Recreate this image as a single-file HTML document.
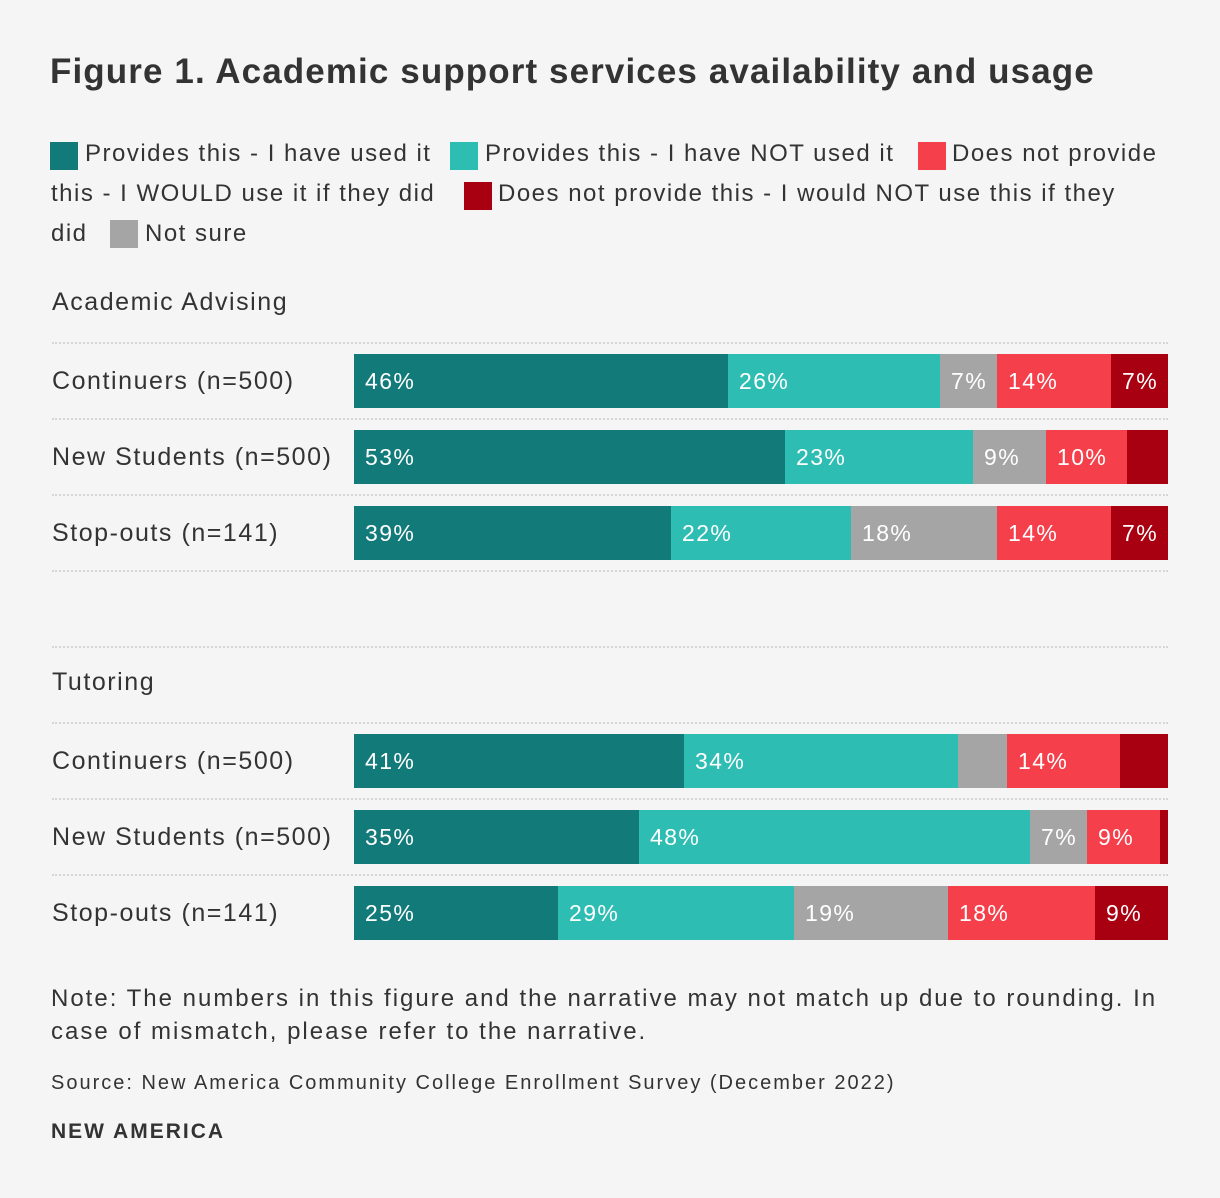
<!DOCTYPE html>
<html><head><meta charset="utf-8"><style>
body{margin:0;background:#f5f5f5;}
#c{position:relative;width:1220px;height:1198px;background:#f5f5f5;font-family:"Liberation Sans",sans-serif;color:#333;overflow:hidden}
.a{position:absolute;white-space:nowrap}
.sw{position:absolute;width:28px;height:28px}
.lg{font-size:24px;line-height:28px;letter-spacing:1.5px}
.dot{position:absolute;left:52px;width:1116px;border-top:2px dotted #d6d6d6;height:0}
.rl{font-size:25px;letter-spacing:1.55px}
.seg{position:absolute;height:54px;color:#fff;font-size:23px;letter-spacing:1.4px;line-height:54px;box-sizing:border-box;overflow:hidden}
</style></head><body>
<div id="c">
<div class="a" style="left:50px;top:52px;font-size:35px;font-weight:bold;color:#333;letter-spacing:1.1px">Figure 1. Academic support services availability and usage</div>
<div class="sw" style="left:50px;top:142px;background:#137a7a"></div>
<div class="a lg" style="left:85px;top:140px">Provides this - I have used it</div>
<div class="sw" style="left:450px;top:142px;background:#2ebdb3"></div>
<div class="a lg" style="left:485px;top:140px">Provides this - I have NOT used it</div>
<div class="sw" style="left:918px;top:142px;background:#f53f4a"></div>
<div class="a lg" style="left:952px;top:140px">Does not provide</div>
<div class="a lg" style="left:51px;top:180px">this - I WOULD use it if they did</div>
<div class="sw" style="left:464px;top:182px;background:#a80011"></div>
<div class="a lg" style="left:498px;top:180px">Does not provide this - I would NOT use this if they</div>
<div class="a lg" style="left:51px;top:220px">did</div>
<div class="sw" style="left:110px;top:220px;background:#a5a5a5"></div>
<div class="a lg" style="left:145px;top:220px">Not sure</div>
<div class="a" style="left:51px;top:982px;font-size:24px;line-height:33px;letter-spacing:2px">Note: The numbers in this figure and the narrative may not match up due to rounding. In<br>case of mismatch, please refer to the narrative.</div>
<div class="a" style="left:51px;top:1072px;font-size:20px;letter-spacing:2px">Source: New America Community College Enrollment Survey (December 2022)</div>
<div class="a" style="left:51px;top:1120px;font-size:21px;font-weight:bold;letter-spacing:2px">NEW AMERICA</div>
</div>
<script>
const groups=["Academic Advising","Tutoring"];
const rows=["Continuers (n=500)","New Students (n=500)","Stop-outs (n=141)"];
const usedVals=[[46,53,39],[41,35,25]];
const notUsedVals=[[26,23,22],[34,48,29]];
const notSureVals=[[7,9,18],[6,7,19]];
const wouldUseVals=[[14,10,14],[14,9,18]];
const wouldNotVals=[[7,5,7],[6,1,9]];
const showLabel=[[[1,1,1,1,1],[1,1,1,1,0],[1,1,1,1,1]],[[1,1,0,1,0],[1,1,1,1,0],[1,1,1,1,1]]];
const colors=["#137a7a","#2ebdb3","#a5a5a5","#f53f4a","#a80011"];
const c=document.getElementById('c');
const x0=354,x1=1168;
function xs(v,t){return (x1-x0)*v/t;}
function add(cls,name,style,text){const e=document.createElement('div');e.className=cls;


e.style.cssText=style;if(text)e.textContent=text;c.appendChild(e);return e;}
groups.forEach((g,gi)=>{
 const top=gi===0?342:722;
 if(gi===1)add('dot','separator','top:646px');
 add('a rl','group-title-'+gi,'left:52px;top:'+(top-54)+'px',g);
 add('dot','separator','top:'+top+'px');
 rows.forEach((r,ri)=>{
  const y=top+12+ri*76;
  add('a rl','row-label','left:52px;top:'+(y+13)+'px',r);
  const vals=[usedVals[gi][ri],notUsedVals[gi][ri],notSureVals[gi][ri],wouldUseVals[gi][ri],wouldNotVals[gi][ri]];
  const t=vals.reduce((a,b)=>a+b,0);
  let acc=0;
  vals.forEach((v,si)=>{
   const l=Math.round(x0+xs(acc,t));acc+=v;const rgt=Math.round(x0+xs(acc,t));
   const lab=showLabel[gi][ri][si];
   add('seg','bar-segment','left:'+l+'px;top:'+y+'px;width:'+(rgt-l)+'px;background:'+colors[si]+';padding-left:'+(lab?11:0)+'px',lab?v+'%':'');
  });
  if(!(gi===1&&ri===2))add('dot','separator','top:'+(y+64)+'px');
 });
});
</script>
</body></html>
